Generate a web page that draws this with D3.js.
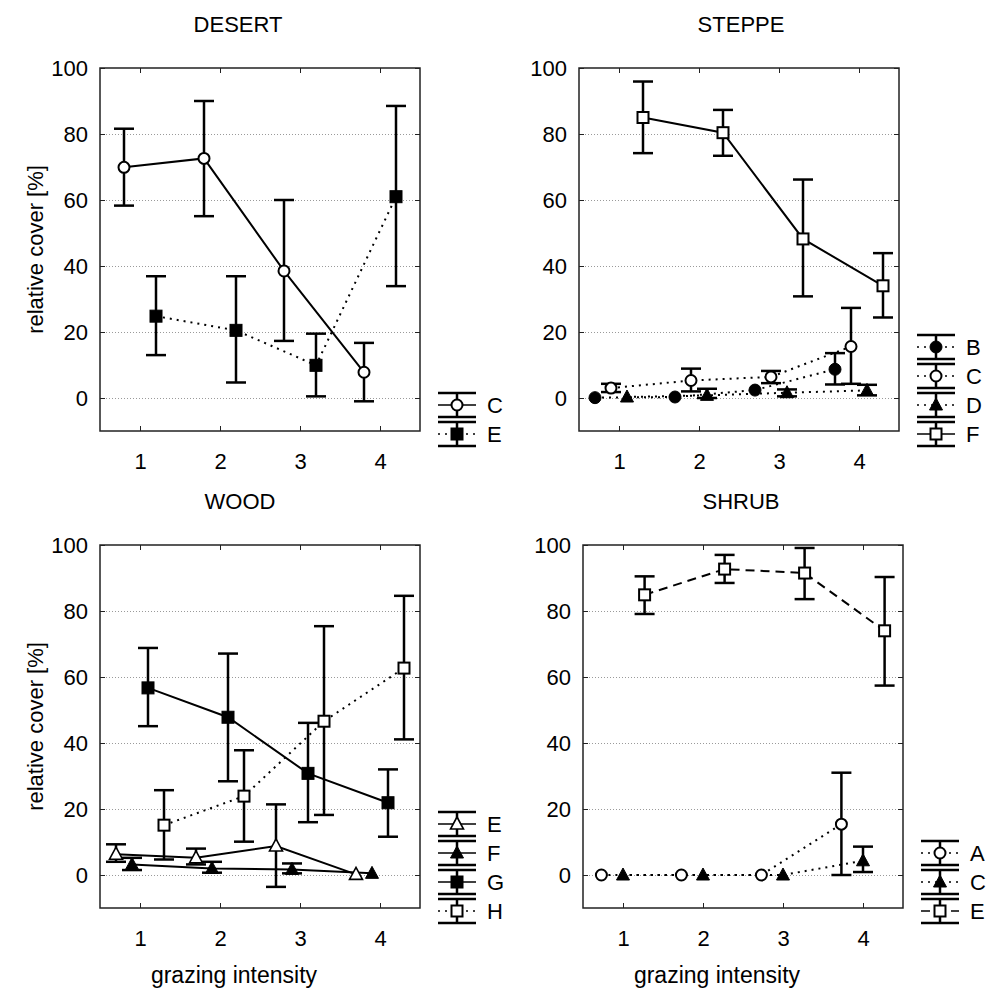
<!DOCTYPE html>
<html>
<head>
<meta charset="utf-8">
<script src="https://cdn.jsdelivr.net/npm/d3@7"></script>
<style>
	body { margin: 0; background: #fff; }
	svg { display: block; }
	text { font-family: "Liberation Sans", Arial, sans-serif; fill: #000; }
</style>
</head>
<body>
<svg id="chart"></svg>
<script>
// grazing intensity classes and y ticks
const grazing = [1, 2, 3, 4];
const yTicks = [0, 20, 40, 60, 80, 100];
const gridTicks = [0, 20, 40, 60, 80];

// DESERT
const desertSpecies = ['C', 'E'];
const desertMean = [[69.9, 72.6, 38.5, 7.8], [24.8, 20.5, 9.9, 61.0]];
const desertLow = [[58.3, 55.1, 17.3, -1.0], [13.0, 4.7, 0.5, 33.9]];
const desertHigh = [[81.6, 90.0, 60.0, 16.7], [36.9, 36.9, 19.5, 88.5]];

// STEPPE
const steppeSpecies = ['B', 'C', 'D', 'F'];
const steppeMean = [[0.1, 0.3, 2.4, 8.7], [3.0, 5.3, 6.4, 15.6], [0.3, 0.8, 1.6, 2.3], [85.0, 80.4, 48.2, 34.0]];
const steppeLow = [[0.1, 0.3, 2.4, 4.1], [1.8, 2.0, 4.5, 4.3], [0.3, 0.0, 0.5, 0.8], [74.2, 73.4, 30.8, 24.4]];
const steppeHigh = [[0.1, 0.3, 2.4, 13.6], [4.3, 8.9, 8.2, 27.3], [0.3, 2.8, 2.6, 4.0], [95.9, 87.3, 66.2, 43.9]];

// WOOD
const woodSpecies = ['E', 'F', 'G', 'H'];
const woodMean = [[6.3, 5.2, 8.8, 0.2], [3.2, 2.0, 1.7, 0.5], [56.7, 47.8, 30.8, 21.9], [15.1, 23.9, 46.6, 62.7]];
const woodLow = [[4.0, 3.2, -3.6, 0.2], [1.5, 0.7, 0.5, 0.5], [45.1, 28.4, 16.0, 11.6], [4.7, 10.1, 18.2, 41.1]];
const woodHigh = [[9.3, 8.0, 21.4, 0.2], [5.2, 4.0, 3.5, 0.5], [68.8, 67.1, 46.1, 32.0], [25.7, 37.8, 75.4, 84.6]];

// SHRUB
const shrubSpecies = ['A', 'C', 'E'];
const shrubMean = [[0, 0, 0, 15.4], [0, 0, 0, 4.3], [84.9, 92.7, 91.5, 74.0]];
const shrubLow = [[0, 0, 0, 0], [0, 0, 0, 0.9], [79.1, 88.5, 83.6, 57.4]];
const shrubHigh = [[0, 0, 0, 31.0], [0, 0, 0, 8.6], [90.5, 97.0, 99.1, 90.3]];

const W = 986, H = 990;
const plotW = 320, plotH = 363;

const svg = d3.select('#chart').attr('width', W).attr('height', H);

const dashes = { solid: null, dotted: '2,5', dashed: '9,6' };

const panels = [
	{ title: 'DESERT', titleX: 238, left: 100, top: 68, species: desertSpecies, mean: desertMean, lo: desertLow, hi: desertHigh,
		yLabel: true, xLabel: false,
		styles: [{ m: 'circleOpen', line: 'solid', dx: -0.2 }, { m: 'squareFilled', line: 'dotted', dx: 0.2 }] },
	{ title: 'STEPPE', titleX: 741, left: 579, top: 68, species: steppeSpecies, mean: steppeMean, lo: steppeLow, hi: steppeHigh,
		yLabel: false, xLabel: false,
		styles: [{ m: 'circleFilled', line: 'dotted', dx: -0.3 }, { m: 'circleOpen', line: 'dotted', dx: -0.1 },
			{ m: 'triFilled', line: 'dotted', dx: 0.1 }, { m: 'squareOpen', line: 'solid', dx: 0.3 }] },
	{ title: 'WOOD', titleX: 240, left: 100, top: 545, species: woodSpecies, mean: woodMean, lo: woodLow, hi: woodHigh,
		yLabel: true, xLabel: true, xLabelX: 234,
		styles: [{ m: 'triOpen', line: 'solid', dx: -0.3 }, { m: 'triFilled', line: 'solid', dx: -0.1 },
			{ m: 'squareFilled', line: 'solid', dx: 0.1 }, { m: 'squareOpen', line: 'dotted', dx: 0.3 }] },
	{ title: 'SHRUB', titleX: 741, left: 583, top: 545, species: shrubSpecies, mean: shrubMean, lo: shrubLow, hi: shrubHigh,
		yLabel: false, xLabel: true, xLabelX: 717,
		styles: [{ m: 'circleOpen', line: 'dotted', dx: -0.27 }, { m: 'triFilled', line: 'dotted', dx: 0 },
			{ m: 'squareOpen', line: 'dashed', dx: 0.27 }] }
];

// draw one marker at (cx, cy)
const drawMarker = (g, type, cx, cy) => {
	const filled = type.endsWith('Filled');
	const fill = filled ? '#000' : '#fff';
	if (type.startsWith('circle')) {
		g.append('circle').attr('cx', cx).attr('cy', cy).attr('r', filled ? 6 : 5.5)
			.attr('fill', fill).attr('stroke', '#000').attr('stroke-width', filled ? 1 : 2);
	} else if (type.startsWith('square')) {
		const s = filled ? 12 : 11;
		g.append('rect').attr('x', cx - s / 2).attr('y', cy - s / 2).attr('width', s).attr('height', s)
			.attr('fill', fill).attr('stroke', '#000').attr('stroke-width', filled ? 1 : 2);
	} else {
		g.append('path')
			.attr('d', `M${cx},${cy - 7}L${cx + 6.5},${cy + 5}L${cx - 6.5},${cy + 5}Z`)
			.attr('fill', fill).attr('stroke', '#000').attr('stroke-width', filled ? 1 : 1.6)
			.attr('stroke-linejoin', 'miter');
	}
};

panels.forEach(p => {
	const x = d3.scaleLinear().domain([0.5, 4.5]).range([p.left, p.left + plotW]);
	const y = d3.scaleLinear().domain([-10, 100]).range([p.top + plotH, p.top]);
	const g = svg.append('g');

	// dotted grid
	g.append('g')
		.attr('transform', `translate(${p.left},0)`)
		.call(d3.axisLeft(y).tickValues(gridTicks).tickSize(-plotW).tickFormat(''))
		.call(a => a.select('.domain').remove())
		.call(a => a.selectAll('line').attr('stroke', '#9a9a9a').attr('stroke-width', 1).attr('stroke-dasharray', '1,2'));

	// axes with inner ticks
	g.append('g')
		.attr('transform', `translate(${p.left},0)`)
		.call(d3.axisLeft(y).tickValues(yTicks).tickSizeInner(-5).tickSizeOuter(0).tickPadding(12))
		.call(a => a.select('.domain').remove())
		.call(a => a.selectAll('line').attr('stroke', '#222'))
		.call(a => a.selectAll('text').attr('font-size', 22).attr('font-family', '"Liberation Sans", Arial, sans-serif').attr('fill', '#000'));
	g.append('g')
		.attr('transform', `translate(${p.left + plotW},0)`)
		.call(d3.axisRight(y).tickValues(yTicks).tickSizeInner(-5).tickSizeOuter(0).tickFormat(''))
		.call(a => a.select('.domain').remove())
		.call(a => a.selectAll('line').attr('stroke', '#222'));
	g.append('g')
		.attr('transform', `translate(0,${p.top + plotH})`)
		.call(d3.axisBottom(x).tickValues(grazing).tickSizeInner(-5).tickSizeOuter(0).tickPadding(22).tickFormat(d3.format('d')))
		.call(a => a.select('.domain').remove())
		.call(a => a.selectAll('line').attr('stroke', '#222'))
		.call(a => a.selectAll('text').attr('font-size', 22).attr('font-family', '"Liberation Sans", Arial, sans-serif').attr('fill', '#000'));
	g.append('g')
		.attr('transform', `translate(0,${p.top})`)
		.call(d3.axisTop(x).tickValues(grazing).tickSizeInner(-5).tickSizeOuter(0).tickFormat(''))
		.call(a => a.select('.domain').remove())
		.call(a => a.selectAll('line').attr('stroke', '#222'));

	// frame
	g.append('rect')
		.attr('x', p.left).attr('y', p.top).attr('width', plotW).attr('height', plotH)
		.attr('fill', 'none').attr('stroke', '#222').attr('stroke-width', 1.5);

	// title & labels
	g.append('text').attr('x', p.titleX).attr('y', 32).attr('text-anchor', 'middle')
		.attr('transform', `translate(0,${p.top - 68})`)
		.attr('font-size', 22).text(p.title);
	if (p.yLabel) {
		g.append('text')
			.attr('transform', `translate(35,${p.top + plotH / 2}) rotate(-90)`)
			.attr('text-anchor', 'middle').attr('dy', '0.35em')
			.attr('font-size', 22).text('relative cover [%]');
	}
	if (p.xLabel) {
		g.append('text').attr('x', p.xLabelX).attr('y', 983).attr('text-anchor', 'middle')
			.attr('font-size', 23).text('grazing intensity');
	}

	// series: lines, error bars, markers
	p.species.forEach((sp, si) => {
		const st = p.styles[si];
		const xs = grazing.map(v => x(v + st.dx));
		const line = d3.line().x((d, i) => xs[i]).y(d => y(d));
		g.append('path').datum(p.mean[si])
			.attr('d', line)
			.attr('fill', 'none').attr('stroke', '#000').attr('stroke-width', 2)
			.attr('stroke-dasharray', dashes[st.line]);
	});
	p.species.forEach((sp, si) => {
		const st = p.styles[si];
		p.mean[si].forEach((v, i) => {
			const lo = p.lo[si][i], hi = p.hi[si][i];
			const cx = x(grazing[i] + st.dx);
			if (hi - lo > 0.5) {
				g.append('line').attr('x1', cx).attr('x2', cx).attr('y1', y(lo)).attr('y2', y(hi))
					.attr('stroke', '#000').attr('stroke-width', 2.5);
				[lo, hi].forEach(e => {
					g.append('line').attr('x1', cx - 10).attr('x2', cx + 10).attr('y1', y(e)).attr('y2', y(e))
						.attr('stroke', '#000').attr('stroke-width', 2.5);
				});
			}
			drawMarker(g, st.m, cx, y(v));
		});
	});

	// legend
	const lx = p.left + plotW + 37;
	const n = p.species.length;
	p.species.forEach((sp, si) => {
		const st = p.styles[si];
		const cy = p.top + plotH + 3 - (n - 1 - si) * 29;
		const lg = g.append('g');
		lg.append('line').attr('x1', lx - 19).attr('x2', lx + 19).attr('y1', cy).attr('y2', cy)
			.attr('stroke', '#000').attr('stroke-width', 1.5).attr('stroke-dasharray', dashes[st.line]);
		lg.append('line').attr('x1', lx).attr('x2', lx).attr('y1', cy - 12).attr('y2', cy + 12)
			.attr('stroke', '#000').attr('stroke-width', 2.5);
		[cy - 12, cy + 12].forEach(e => {
			lg.append('line').attr('x1', lx - 19).attr('x2', lx + 19).attr('y1', e).attr('y2', e)
				.attr('stroke', '#000').attr('stroke-width', 2.5);
		});
		drawMarker(lg, st.m, lx, cy);
		lg.append('text').attr('x', lx + 30).attr('y', cy).attr('dy', '0.35em')
			.attr('font-size', 22).text(sp);
	});
});
</script>
</body>
</html>
